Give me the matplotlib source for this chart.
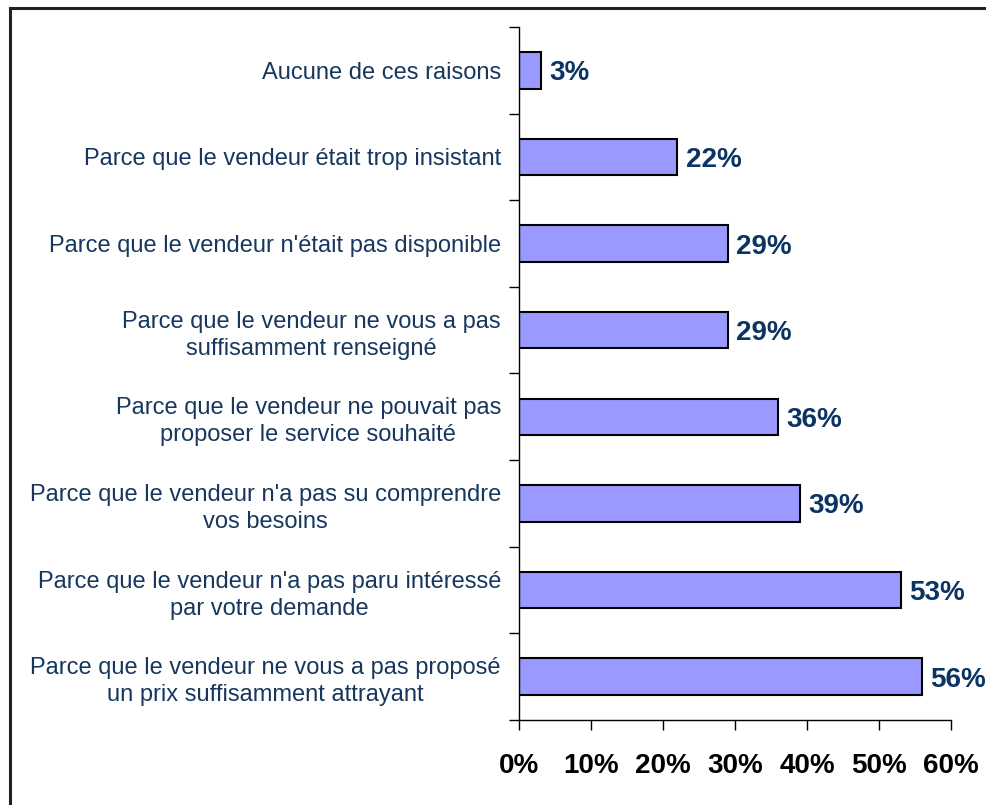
import numpy as np
import matplotlib.pyplot as plt
from matplotlib.lines import Line2D

labels = [
    "Aucune de ces raisons",
    "Parce que le vendeur était trop insistant",
    "Parce que le vendeur n'était pas disponible",
    "Parce que le vendeur ne vous a pas\nsuffisamment renseigné",
    "Parce que le vendeur ne pouvait pas\nproposer le service souhaité",
    "Parce que le vendeur n'a pas su comprendre\nvos besoins",
    "Parce que le vendeur n'a pas paru intéressé\npar votre demande",
    "Parce que le vendeur ne vous a pas proposé\nun prix suffisamment attrayant",
]
values = [3, 22, 29, 29, 36, 39, 53, 56]
xticks = [0, 10, 20, 30, 40, 50, 60]

plt.rcParams['font.family'] = ['Liberation Sans', 'DejaVu Sans']

navy = "#17375E"
fig = plt.figure(figsize=(9.87, 8.05), dpi=100)
ax = fig.add_axes([519 / 987, 85 / 805, 432 / 987, 693 / 805])

# outer frame: only the left and top edges fall inside the image
fx, fy = 9.5 / 987, 1 - 8.5 / 805
fig.add_artist(Line2D([fx, fx], [0, fy], transform=fig.transFigure,
                      color="#222222", linewidth=2.2, solid_capstyle="projecting"))
fig.add_artist(Line2D([fx, 1], [fy, fy], transform=fig.transFigure,
                      color="#222222", linewidth=2.2, solid_capstyle="projecting"))

n = len(labels)
pos = np.arange(n)
ax.barh(pos, values, height=0.42, color="#9999FF", edgecolor="black", linewidth=1.5)

for p, v in zip(pos, values):
    ax.annotate(f"{v}%", (v, p), xytext=(6, 0), textcoords="offset points",
                va="center_baseline", ha="left", fontsize=20, fontweight="bold",
                color="#0B3363")

ax.set_xlim(0, 60)
ax.set_ylim(n - 0.5, -0.5)

ax.set_xticks(xticks)
ax.set_xticklabels([f"{t}%" for t in xticks], fontsize=20, fontweight="bold")
ax.tick_params(axis="x", direction="out", length=7, width=1, pad=17)

# boundary ticks on y, labels centred on each bar
ax.set_yticks(np.arange(n + 1) - 0.5)
ax.set_yticklabels([])
ax.set_yticks(pos, minor=True)
ax.set_yticklabels(labels, minor=True, fontsize=17, color=navy,
                   multialignment="center", linespacing=1.3)
ax.tick_params(axis="y", which="major", direction="out", length=7, width=1)
ax.tick_params(axis="y", which="minor", length=0, pad=13)

for s in ["top", "right"]:
    ax.spines[s].set_visible(False)
for s in ["left", "bottom"]:
    ax.spines[s].set_linewidth(1)

fig.savefig("out.png", dpi=100, facecolor="white")
